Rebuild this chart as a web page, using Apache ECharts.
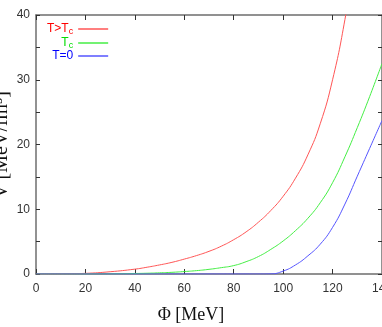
<!DOCTYPE html>
<html>
<head>
<meta charset="utf-8">
<script src="https://cdn.jsdelivr.net/npm/echarts@6/dist/echarts.min.js"></script>
<style>
  html, body { margin: 0; padding: 0; background: #fff; }
  #chart { width: 382px; height: 327px; }
</style>
</head>
<body>
<div id="chart"></div>
<script>
// field Phi [MeV] and potential V [MeV/fm^3]
var phi   = [0, 10, 20, 30, 40, 45, 50, 55, 60, 65, 70, 75, 80, 85, 90, 95, 100, 105, 110, 115, 120, 125, 130, 135, 140];
var vHot  = [0, 0.02, 0.1, 0.35, 0.75, 1.05, 1.4, 1.8, 2.3, 2.85, 3.5, 4.3, 5.3, 6.5, 8.0, 9.8, 12, 14.8, 18.4, 23.2, 30, 39.3, 51, null, null];
var vTc   = [0, 0, 0.01, 0.03, 0.08, 0.12, 0.18, 0.26, 0.38, 0.52, 0.72, 0.98, 1.3, 1.9, 2.7, 3.8, 5.1, 6.7, 8.6, 11.0, 14.1, 18.1, 22.6, 27.4, 32.5];
var vZero = [0, 0, 0, 0, 0, 0, 0, 0, 0, 0, 0, 0, 0, 0, 0, 0.02, 0.45, 1.4, 2.8, 4.6, 7.2, 10.8, 15.1, 19.4, 23.7];

var xTicks = [0, 140, 20];   // min, max, interval
var yTicks = [0, 40, 5];

var names  = ['T>Tc', 'Tc', 'T=0'];
var labels = {'T>Tc': '{m|T>T}{s|c}', 'Tc': '{m|T}{s|c}', 'T=0': '{m|T=0}'};

function pairs(ys) {
  return phi.map(function (x, i) { return [x, ys[i]]; });
}

var chart = echarts.init(document.getElementById('chart'));

var frame = '#6e6e6e';
var tickFont = "'Liberation Sans Narrow', 'Liberation Sans', Arial, sans-serif";

function xAxis(pos, labelsOn) {
  return {
    type: 'value', position: pos,
    min: xTicks[0], max: xTicks[1], interval: xTicks[2],
    axisLine: { show: true, onZero: false, lineStyle: { color: frame, width: 1.5 } },
    axisTick: { show: true, inside: true, length: 5, lineStyle: { color: '#333', width: 1 } },
    axisLabel: { show: labelsOn, margin: 9, color: '#333', fontSize: 12, fontFamily: tickFont },
    splitLine: { show: false }
  };
}
function yAxis(pos, labelsOn) {
  return {
    type: 'value', position: pos,
    min: yTicks[0], max: yTicks[1], interval: yTicks[2],
    axisLine: { show: true, onZero: false, lineStyle: { color: frame, width: 1.5 } },
    axisTick: { show: true, inside: true, length: 4, lineStyle: { color: '#333', width: 1 } },
    axisLabel: {
      show: labelsOn, margin: 6, color: '#333', fontSize: 12, fontFamily: tickFont,
      formatter: function (v) { return v % 10 === 0 ? String(v) : ''; }
    },
    splitLine: { show: false }
  };
}

function line(name, ys, color) {
  return {
    name: name, type: 'line', data: pairs(ys),
    showSymbol: false, symbol: 'none',
    smooth: 0.5,
    lineStyle: { color: color, width: 1 },
    itemStyle: { color: color },
    clip: true, z: 3
  };
}

var option = {
  animation: false,
  backgroundColor: '#fff',
  grid: { left: 36, top: 15, right: 0, bottom: 53, containLabel: false, outerBoundsMode: 'none' },
  xAxis: [xAxis('bottom', true), xAxis('top', false)],
  yAxis: [yAxis('left', true), yAxis('right', false)],
  legend: {
    orient: 'vertical', align: 'right',
    left: 42, top: 17,
    icon: 'rect', itemWidth: 30, itemHeight: 1.5, itemGap: 0,
    selectedMode: false,
    formatter: function (n) { return labels[n]; },
    textStyle: {
      fontFamily: "'Liberation Sans Narrow', 'Liberation Sans', sans-serif",
      fontSize: 12,
      rich: {
        m: { fontSize: 12, lineHeight: 11 },
        s: { fontSize: 9, lineHeight: 9, padding: [5, 0, 0, 0] }
      }
    },
    data: [
      { name: names[0], textStyle: { color: '#ff0000' } },
      { name: names[1], textStyle: { color: '#00dd00' } },
      { name: names[2], textStyle: { color: '#0000ff' } }
    ]
  },
  graphic: [
    {
      type: 'text', left: 'center', top: 306,
      style: { text: 'Φ [MeV]', fill: '#111', font: "18px 'Liberation Serif', 'DejaVu Serif', serif" }
    },
    {
      type: 'text', x: 2, y: 145, rotation: Math.PI / 2,
      style: {
        text: 'V [MeV/fm³]', fill: '#111', align: 'center', verticalAlign: 'middle',
        font: "20px 'Liberation Serif', 'DejaVu Serif', serif"
      }
    }
  ],
  series: [
    line(names[0], vHot, '#ff5555'),
    line(names[1], vTc, '#44ee44'),
    line(names[2], vZero, '#5555ff')
  ]
};

chart.setOption(option);
</script>
</body>
</html>
